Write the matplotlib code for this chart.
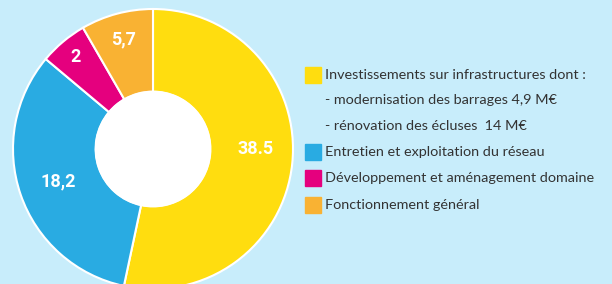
import numpy as np
import matplotlib
matplotlib.use("Agg")
import matplotlib.pyplot as plt

# values printed on the chart
value_labels = ["38.5", "18,2", "2", "5,7"]
# slice sizes as drawn in the picture (degrees of arc)
slice_deg = [192, 118, 20, 30]
colors = ["#ffdd0f", "#29abe2", "#e5007e", "#f9b233"]
label_r = [0.73, 0.72, 0.86, 0.81]
label_shift = [6, 0, 0, 0]   # degrees, label not exactly at mid-angle

legend_rows = ["Investissements sur infrastructures dont :",
               "- modernisation des barrages 4,9 M\u20ac",
               "- r\u00e9novation des \u00e9cluses  14 M\u20ac",
               "Entretien et exploitation du r\u00e9seau",
               "D\u00e9veloppement et am\u00e9nagement domaine",
               "Fonctionnement g\u00e9n\u00e9ral"]
legend_colors = ["#ffdd0f", None, None, "#29abe2", "#e5007e", "#f9b233"]

bg = "#c8edfb"
W, H = 612, 284
fig = plt.figure(figsize=(W/100, H/100), dpi=100, facecolor=bg)

# donut axes, centre (153,149) px, radius 140 px
cx, cy, R = 153, 149, 140
ax = fig.add_axes([(cx-R)/W, (H-cy-R)/H, 2*R/W, 2*R/H])
ax.set_facecolor(bg)
wedges, _ = ax.pie(slice_deg, colors=colors, startangle=90, counterclock=False,
                   radius=1.0, wedgeprops=dict(width=0.59, edgecolor="white", linewidth=1.5))
ax.add_patch(plt.Circle((0, 0), 0.41, color="white", zorder=3))
ax.set_xlim(-1, 1)
ax.set_ylim(-1, 1)
ax.set_aspect("equal")
ax.axis("off")
for w in wedges:
    w.set_clip_on(False)

for w, lab, r, s in zip(wedges, value_labels, label_r, label_shift):
    mid = np.deg2rad((w.theta1 + w.theta2) / 2 + s)
    ax.text(r*np.cos(mid), r*np.sin(mid), lab, color="white", fontsize=13,
            fontweight="bold", ha="center", va="center",
            family=["Roboto", "DejaVu Sans"])

# legend
ys = [75, 100, 126, 152, 178, 205]
for y, txt, c in zip(ys, legend_rows, legend_colors):
    if c is not None:
        fig.patches.append(plt.Rectangle((305/W, (H-y-8)/H), 16/W, 16/H,
                                         transform=fig.transFigure, color=c))
    fig.text(325/W, (H-y)/H, txt, fontsize=10.4, color="#333333", va="center",
             ha="left", family=["Lato", "DejaVu Sans"])

fig.savefig("out.png", dpi=100, facecolor=bg)
